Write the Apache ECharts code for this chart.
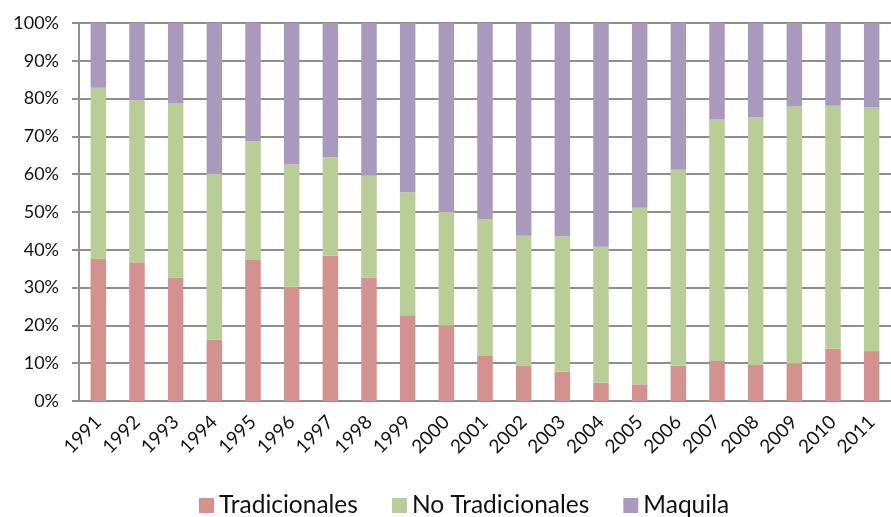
<!DOCTYPE html>
<html>
<head>
<meta charset="utf-8">
<script src="https://cdn.jsdelivr.net/npm/echarts@6/dist/echarts.min.js"></script>
<style>
  html, body { margin: 0; padding: 0; background: #fff; }
  #chart { width: 891px; height: 517px; }
</style>
</head>
<body>
<div id="chart"></div>
<script>
// years on the x axis
var years = ['1991', '1992', '1993', '1994', '1995', '1996', '1997', '1998', '1999', '2000',
  '2001', '2002', '2003', '2004', '2005', '2006', '2007', '2008', '2009', '2010', '2011'];

// share of each group, percent of total
var tradicionales = [37.6, 36.7, 32.6, 16.3, 37.3, 30.3, 38.4, 32.6, 22.7, 20.0,
  11.9, 9.4, 7.8, 4.8, 4.4, 9.3, 10.6, 9.5, 9.9, 13.8, 13.2];
var noTradicionales = [45.3, 43.0, 46.1, 43.9, 31.5, 32.3, 26.1, 27.0, 32.5, 30.0,
  36.2, 34.3, 35.8, 36.0, 46.7, 51.9, 63.9, 65.5, 68.0, 64.3, 64.6];
var maquila = [17.1, 20.3, 21.3, 39.8, 31.2, 37.4, 35.5, 40.4, 44.8, 50.0,
  51.9, 56.3, 56.4, 59.2, 48.9, 38.8, 25.5, 25.0, 22.1, 21.9, 22.2];

var seriesNames = ['Tradicionales', 'No Tradicionales', 'Maquila'];
var colors = ['#D39190', '#B9CD96', '#A99ABD'];

var font = 'Lato, "Open Sans", sans-serif';
var gray = '#8f8f8f';

var chart = echarts.init(document.getElementById('chart'));

function bar(name, data) {
  return {
    name: name,
    type: 'bar',
    stack: 'total',
    barWidth: '40%',
    data: data
  };
}

chart.setOption({
  animation: false,
  color: colors,
  textStyle: { fontFamily: font },
  grid: { left: 79, right: -7, top: 23, bottom: 116 },
  legend: {
    left: 194,
    top: 488,
    itemWidth: 15,
    itemHeight: 15,
    itemGap: 34,
    icon: 'rect',
    textStyle: { fontFamily: font, fontSize: 24.5, color: '#111' },
    data: seriesNames
  },
  xAxis: {
    type: 'category',
    data: years,
    axisLine: { lineStyle: { color: gray, width: 2 } },
    axisTick: { length: 7, lineStyle: { color: gray, width: 2 } },
    axisLabel: {
      rotate: 45,
      margin: 18,
      fontSize: 19,
      color: '#111',
      fontFamily: font
    }
  },
  yAxis: {
    type: 'value',
    min: 0,
    max: 100,
    interval: 10,
    axisLine: { show: true, lineStyle: { color: gray, width: 2 } },
    axisTick: { show: true, length: 7, lineStyle: { color: gray, width: 2 } },
    splitLine: { lineStyle: { color: gray, width: 2 } },
    axisLabel: {
      formatter: '{value}%',
      margin: 20,
      fontSize: 18,
      color: '#111',
      fontFamily: font
    }
  },
  series: [
    bar(seriesNames[0], tradicionales),
    bar(seriesNames[1], noTradicionales),
    bar(seriesNames[2], maquila)
  ]
});
</script>
</body>
</html>
